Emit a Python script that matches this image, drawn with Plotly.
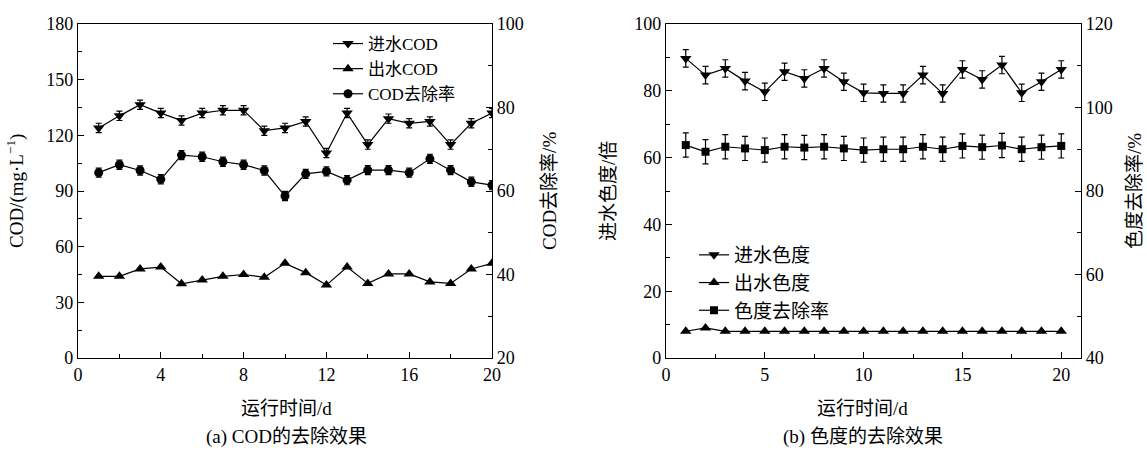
import plotly.graph_objects as go

# ---------------- data ----------------
days = list(range(1, 21))

# (a) COD
cod_in = [124, 130.5, 136.5, 132, 128, 132, 133.5, 133.5, 122.5, 124,
          127.5, 110.5, 132, 115, 129, 126.5, 127.5, 115, 126.5, 132]
cod_in_err = [2.5, 2.5, 2.5, 2.5, 2.5, 2.5, 2.5, 2.5, 2.5, 2.5,
              2.5, 2.5, 2.5, 2.5, 2.5, 2.5, 2.5, 2.5, 2.5, 2.5]
cod_out = [44, 44, 48, 49, 40, 42, 44, 45, 43.5, 51,
           46, 39.3, 49, 40.2, 45.3, 45.3, 41, 40.2, 48, 51]
cod_rate = [64.4, 66.3, 64.9, 62.8, 68.6, 68.2, 67.0, 66.3, 64.9, 58.8,
            64.1, 64.7, 62.6, 65.0, 65.0, 64.4, 67.7, 65.0, 62.2, 61.4]
cod_rate_err = [1.1, 1.1, 1.1, 1.1, 1.1, 1.1, 1.1, 1.1, 1.1, 1.1,
                1.1, 1.1, 1.1, 1.1, 1.1, 1.1, 1.1, 1.1, 1.1, 1.1]

# (b) colour
col_in = [89.7, 84.7, 86.7, 82.9, 79.7, 85.7, 83.7, 86.7, 82.7, 79.4,
          79.2, 79.2, 84.7, 79.2, 86.4, 83.4, 87.7, 79.4, 82.7, 86.4]
col_in_err = [2.6, 2.6, 2.6, 2.6, 2.6, 2.6, 2.6, 2.6, 2.6, 2.6,
              2.6, 2.6, 2.6, 2.6, 2.6, 2.6, 2.6, 2.6, 2.6, 2.6]
col_out = [8, 9, 8, 8, 8, 8, 8, 8, 8, 8,
           8, 8, 8, 8, 8, 8, 8, 8, 8, 8]
col_rate = [91.0, 89.4, 90.6, 90.2, 89.8, 90.6, 90.4, 90.6, 90.2, 89.8,
            90.0, 90.0, 90.6, 90.0, 90.8, 90.5, 90.9, 90.0, 90.5, 90.8]
col_rate_err = [2.9, 2.9, 2.9, 2.9, 2.9, 2.9, 2.9, 2.9, 2.9, 2.9,
                2.9, 2.9, 2.9, 2.9, 2.9, 2.9, 2.9, 2.9, 2.9, 2.9]

names_a = ["进水COD", "出水COD", "COD去除率"]
names_b = ["进水色度", "出水色度", "色度去除率"]

FONT = "Liberation Serif, Times New Roman, Noto Sans CJK SC"
W, H = 1147, 451


def px_x(p):
    return p / W


def px_y(p):
    return 1 - p / H


fig = go.Figure()

line = dict(color="black", width=1.2)


def err(arr):
    return dict(type="data", array=arr, visible=True, color="black", thickness=1.2, width=3)


# panel (a)
fig.add_trace(go.Scatter(x=days, y=cod_in, name=names_a[0], mode="lines+markers",
                         line=line, marker=dict(symbol="triangle-down", size=10, color="black"),
                         error_y=err(cod_in_err), xaxis="x", yaxis="y", legend="legend"))
fig.add_trace(go.Scatter(x=days, y=cod_out, name=names_a[1], mode="lines+markers",
                         line=line, marker=dict(symbol="triangle-up", size=10, color="black"),
                         xaxis="x", yaxis="y", legend="legend"))
fig.add_trace(go.Scatter(x=days, y=cod_rate, name=names_a[2], mode="lines+markers",
                         line=line, marker=dict(symbol="circle", size=9, color="black"),
                         error_y=err(cod_rate_err), xaxis="x", yaxis="y2", legend="legend"))

# panel (b)
fig.add_trace(go.Scatter(x=days, y=col_in, name=names_b[0], mode="lines+markers",
                         line=line, marker=dict(symbol="triangle-down", size=10, color="black"),
                         error_y=err(col_in_err), xaxis="x2", yaxis="y3", legend="legend2"))
fig.add_trace(go.Scatter(x=days, y=col_out, name=names_b[1], mode="lines+markers",
                         line=line, marker=dict(symbol="triangle-up", size=10, color="black"),
                         xaxis="x2", yaxis="y3", legend="legend2"))
fig.add_trace(go.Scatter(x=days, y=col_rate, name=names_b[2], mode="lines+markers",
                         line=line, marker=dict(symbol="square", size=8, color="black"),
                         error_y=err(col_rate_err), xaxis="x2", yaxis="y4", legend="legend2"))

dom_a = [px_x(78), px_x(492)]
dom_b = [px_x(666), px_x(1081)]
dom_y = [px_y(358), px_y(24)]

axis_common = dict(showline=True, linecolor="black", linewidth=1.3, ticks="inside",
                   ticklen=6, tickwidth=1.2, tickcolor="black", showgrid=False,
                   zeroline=False, automargin=False,
                   tickfont=dict(size=18, color="black", family=FONT))


def minor(dt):
    return dict(ticks="inside", ticklen=3.5, tickwidth=1.1, tickcolor="black", dtick=dt, showgrid=False)


fig.update_layout(
    width=W, height=H,
    margin=dict(l=0, r=0, t=0, b=0, autoexpand=False),
    paper_bgcolor="white", plot_bgcolor="white",
    font=dict(family=FONT, color="black", size=17),
    xaxis=dict(domain=dom_a, anchor="y", range=[0, 20], tick0=0, dtick=4,
               mirror=True, minor=minor(2), **axis_common),
    yaxis=dict(domain=dom_y, anchor="x", range=[0, 180], tick0=0, dtick=30,
               minor=minor(15), **axis_common),
    yaxis2=dict(anchor="x", overlaying="y", side="right", range=[20, 100], tick0=20, dtick=20,
                minor=minor(10), **axis_common),
    xaxis2=dict(domain=dom_b, anchor="y3", range=[0, 21], tick0=0, dtick=5,
                mirror=True, minor=minor(2.5), **axis_common),
    yaxis3=dict(domain=dom_y, anchor="x2", range=[0, 100], tick0=0, dtick=20,
                minor=minor(10), **axis_common),
    yaxis4=dict(anchor="x2", overlaying="y3", side="right", range=[40, 120], tick0=40, dtick=20,
                minor=minor(10), **axis_common),
    legend=dict(x=px_x(328), y=px_y(26), xanchor="left", yanchor="top",
                bgcolor="rgba(0,0,0,0)", font=dict(size=17, family=FONT),
                itemwidth=30, tracegroupgap=0),
    legend2=dict(x=px_x(694), y=px_y(236), xanchor="left", yanchor="top",
                 bgcolor="rgba(0,0,0,0)", font=dict(size=19, family=FONT),
                 itemwidth=30, tracegroupgap=0),
    showlegend=True,
)

ann_font = dict(size=19, family=FONT, color="black")
annotations = [
    dict(text="COD/(mg·L<sup>−1</sup>)", x=px_x(15), y=px_y(191), textangle=-90),
    dict(text="COD去除率/%", x=px_x(549), y=px_y(191), textangle=-90),
    dict(text="运行时间/d", x=px_x(286), y=px_y(408)),
    dict(text="(a) COD的去除效果", x=px_x(286), y=px_y(437)),
    dict(text="进水色度/倍", x=px_x(608), y=px_y(191), textangle=-90),
    dict(text="色度去除率/%", x=px_x(1134), y=px_y(191), textangle=-90),
    dict(text="运行时间/d", x=px_x(863), y=px_y(408)),
    dict(text="(b) 色度的去除效果", x=px_x(863), y=px_y(437)),
]
for a in annotations:
    fig.add_annotation(xref="paper", yref="paper", showarrow=False, xanchor="center",
                       yanchor="middle", font=ann_font, **a)

fig.write_html("out.html", config={"displayModeBar": False},
               post_script="document.body.style.margin='0px';document.body.style.overflow='hidden';")
